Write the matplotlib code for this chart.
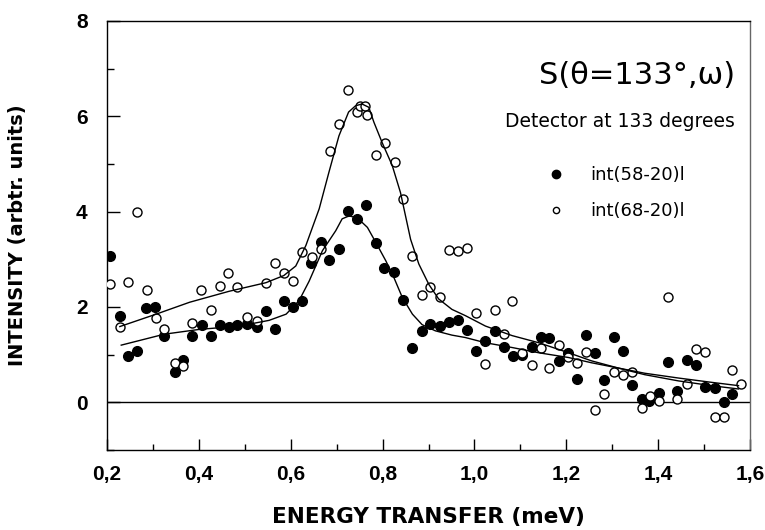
import matplotlib
matplotlib.use('Agg')
import matplotlib.pyplot as plt
from matplotlib.lines import Line2D
from matplotlib.ticker import MultipleLocator, FuncFormatter

# int(58-20)l  (filled circles)
x_full = [0.206, 0.228, 0.246, 0.266, 0.286, 0.305, 0.325, 0.347, 0.365, 0.385,
          0.406, 0.427, 0.445, 0.465, 0.484, 0.505, 0.526, 0.546, 0.565, 0.586,
          0.605, 0.624, 0.645, 0.665, 0.684, 0.705, 0.725, 0.744, 0.765, 0.785,
          0.804, 0.825, 0.844, 0.863, 0.885, 0.904, 0.924, 0.944, 0.964, 0.984,
          1.003, 1.024, 1.044, 1.064, 1.083, 1.103, 1.125, 1.145, 1.163, 1.185,
          1.203, 1.224, 1.243, 1.263, 1.283, 1.304, 1.323, 1.344, 1.364, 1.381,
          1.402, 1.422, 1.442, 1.462, 1.482, 1.502, 1.523, 1.544, 1.561]
y_full = [3.06, 1.81, 0.97, 1.08, 1.97, 2.00, 1.40, 0.64, 0.88, 1.40,
          1.62, 1.40, 1.62, 1.58, 1.62, 1.65, 1.58, 1.92, 1.53, 2.13,
          2.01, 2.13, 2.93, 3.37, 2.98, 3.22, 4.02, 3.84, 4.15, 3.35,
          2.81, 2.74, 2.14, 1.15, 1.49, 1.65, 1.60, 1.69, 1.73, 1.52,
          1.07, 1.29, 1.50, 1.16, 0.97, 0.99, 1.16, 1.38, 1.35, 0.87,
          1.04, 0.49, 1.42, 1.03, 0.47, 1.38, 1.08, 0.37, 0.06, 0.02,
          0.20, 0.84, 0.24, 0.88, 0.78, 0.32, 0.30, 0.01, 0.17]

# int(68-20)l  (open circles)
x_open = [0.206, 0.228, 0.246, 0.266, 0.287, 0.306, 0.325, 0.347, 0.365, 0.385,
          0.405, 0.427, 0.445, 0.464, 0.484, 0.505, 0.526, 0.546, 0.565, 0.586,
          0.605, 0.624, 0.646, 0.665, 0.685, 0.705, 0.725, 0.744, 0.750, 0.761,
          0.767, 0.785, 0.805, 0.826, 0.844, 0.863, 0.885, 0.904, 0.924, 0.944,
          0.964, 0.984, 1.004, 1.024, 1.044, 1.064, 1.082, 1.103, 1.125, 1.145,
          1.163, 1.185, 1.203, 1.224, 1.243, 1.263, 1.283, 1.303, 1.323, 1.344,
          1.364, 1.382, 1.402, 1.422, 1.442, 1.462, 1.482, 1.502, 1.523, 1.544,
          1.561, 1.581]
y_open = [2.48, 1.58, 2.52, 4.00, 2.36, 1.76, 1.53, 0.83, 0.76, 1.66,
          2.36, 1.93, 2.45, 2.72, 2.41, 1.79, 1.70, 2.50, 2.92, 2.72,
          2.54, 3.16, 3.05, 3.22, 5.28, 5.84, 6.56, 6.09, 6.22, 6.22,
          6.03, 5.18, 5.45, 5.04, 4.27, 3.06, 2.25, 2.41, 2.22, 3.19,
          3.17, 3.23, 1.88, 0.81, 1.93, 1.43, 2.13, 1.04, 0.78, 1.14,
          0.72, 1.21, 0.95, 0.82, 1.05, -0.16, 0.17, 0.63, 0.57, 0.64,
          -0.11, 0.13, 0.02, 2.20, 0.06, 0.39, 1.12, 1.05, -0.31, -0.31,
          0.67, 0.39]

# fitted curves
fit_x_full = [0.231, 0.325, 0.401, 0.488, 0.553, 0.590, 0.618, 0.640, 0.669, 0.698,
              0.712, 0.727, 0.745, 0.767, 0.785, 0.807, 0.825, 0.843, 0.865, 0.886,
              0.915, 0.951, 0.980, 1.024, 1.082, 1.140, 1.205, 1.255, 1.313, 1.371,
              1.444, 1.516, 1.575]
fit_y_full = [1.20, 1.43, 1.53, 1.60, 1.72, 1.85, 2.13, 2.54, 3.18, 3.60,
              3.85, 3.91, 3.87, 3.67, 3.36, 2.97, 2.61, 2.20, 1.85, 1.63,
              1.50, 1.41, 1.36, 1.25, 1.15, 1.04, 0.94, 0.83, 0.72, 0.58,
              0.45, 0.35, 0.28]
fit_x_open = [0.228, 0.307, 0.380, 0.466, 0.546, 0.585, 0.611, 0.633, 0.662, 0.683,
              0.705, 0.726, 0.741, 0.755, 0.770, 0.781, 0.799, 0.821, 0.839, 0.861,
              0.879, 0.901, 0.922, 0.951, 0.980, 1.024, 1.082, 1.140, 1.205, 1.255,
              1.313, 1.371, 1.444, 1.516, 1.575]
fit_y_open = [1.59, 1.85, 2.10, 2.33, 2.51, 2.66, 2.86, 3.29, 4.06, 4.82,
              5.59, 6.09, 6.22, 6.26, 6.19, 5.88, 5.45, 4.97, 4.40, 3.42,
              2.90, 2.47, 2.17, 1.95, 1.82, 1.60, 1.40, 1.25, 1.04, 0.87,
              0.72, 0.61, 0.51, 0.42, 0.35]

plt.rcParams['font.family'] = ['Liberation Sans', 'DejaVu Sans']
plt.rcParams['font.weight'] = 'bold'
wide = ['DejaVu Sans']

fig = plt.figure(figsize=(7.65, 5.30), dpi=100)
ax = fig.add_axes([107/765, 1-450/530, 643/765, 429/530])

ax.axhline(0, color='black', lw=1.0, zorder=1)
ax.plot(x_full, y_full, 'o', ms=7, color='black', zorder=2)
ax.plot(x_open, y_open, 'o', ms=6.5, mfc='white', mec='black', mew=1.0, zorder=3)
ax.plot(fit_x_full, fit_y_full, '-', color='black', lw=1.0, zorder=4)
ax.plot(fit_x_open, fit_y_open, '-', color='black', lw=1.0, zorder=4)

ax.set_xlim(0.2, 1.6)
ax.set_ylim(-1, 8)
ax.xaxis.set_major_locator(MultipleLocator(0.2))
ax.xaxis.set_minor_locator(MultipleLocator(0.1))
ax.yaxis.set_major_locator(MultipleLocator(2))
ax.yaxis.set_minor_locator(MultipleLocator(1))
ax.xaxis.set_major_formatter(FuncFormatter(lambda v, p: ('%.1f' % v).replace('.', ',')))
ax.yaxis.set_major_formatter(FuncFormatter(lambda v, p: '%d' % round(v)))
ax.tick_params(axis='both', which='both', direction='in', top=False, right=False, width=1)
ax.tick_params(axis='y', which='major', length=9, pad=14, labelsize=15)
ax.tick_params(axis='y', which='minor', length=5)
ax.tick_params(axis='x', which='major', length=8, pad=11, labelsize=15)
ax.tick_params(axis='x', which='minor', length=4)
for s in ax.spines.values():
    s.set_linewidth(1.0)
ax.spines['right'].set_color('#666666')

ax.set_ylabel('INTENSITY (arbtr. units)', fontsize=14, fontweight='bold', family=wide)
ax.yaxis.set_label_coords(-0.125, 0.5)
ax.set_xlabel('ENERGY TRANSFER (meV)', fontsize=15.5, fontweight='bold', family=wide)
ax.xaxis.set_label_coords(0.5, -0.133)

ax.text(0.977, 0.874, 'S(θ=133°,ω)', transform=ax.transAxes, ha='right', va='center',
        fontsize=22, fontweight='normal', family=wide)
ax.text(0.977, 0.766, 'Detector at 133 degrees', transform=ax.transAxes, ha='right', va='center',
        fontsize=13.5, fontweight='normal', family=wide)

handles = [Line2D([], [], ls='none', marker='o', ms=6, color='black'),
           Line2D([], [], ls='none', marker='o', ms=4.5, mfc='white', mec='black', mew=1.0)]
ax.legend(handles, ['int(58-20)l', 'int(68-20)l'], loc='center left',
          bbox_to_anchor=(0.684, 0.599), frameon=False, borderpad=0, borderaxespad=0,
          handlelength=1.0, handletextpad=1.4, labelspacing=1.0,
          prop={'family': wide, 'size': 13, 'weight': 'normal'})

fig.savefig('out.png', dpi=100)
